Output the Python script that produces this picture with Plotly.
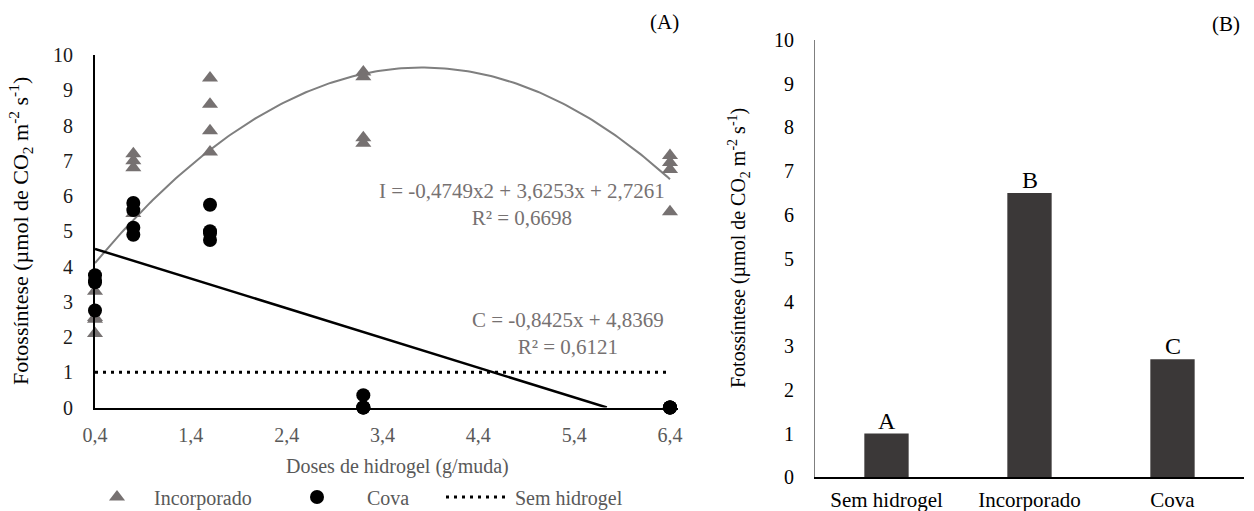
import numpy as np
import plotly.graph_objects as go

# ---------------- data ----------------
# Panel A: scatter of photosynthesis vs hydrogel dose
inc_x = [0.4, 0.4, 0.4, 0.4, 0.8, 0.8, 0.8, 0.8, 1.6, 1.6, 1.6, 1.6, 3.2, 3.2, 3.2, 3.2, 6.4, 6.4, 6.4, 6.4]
inc_y = [3.3, 2.55, 2.5, 2.1, 7.2, 7.0, 6.8, 5.5, 9.35, 8.6, 7.85, 7.25, 9.52, 9.38, 7.65, 7.5, 7.15, 6.95, 6.75, 5.55]

cova_x = [0.4, 0.4, 0.4, 0.4, 0.8, 0.8, 0.8, 0.8, 1.6, 1.6, 1.6, 1.6, 3.2, 3.2, 3.2, 3.2, 6.4, 6.4, 6.4, 6.4]
cova_y = [3.75, 3.6, 3.55, 2.75, 5.8, 5.6, 5.1, 4.9, 5.75, 5.0, 4.95, 4.75, 0.35, 0.0, 0.0, 0.0, 0.0, 0.0, 0.0, 0.0]

sem_x = [0.4, 6.4]
sem_y = [1.0, 1.0]

# fitted trend equations (from the chart)
inc_coef = [-0.4749, 3.6253, 2.7261]   # quadratic a, b, c
cova_coef = [-0.8425, 4.8369]          # linear slope, intercept
inc_eq = "I = -0,4749x2 + 3,6253x + 2,7261<br>R² = 0,6698"
cova_eq = "C = -0,8425x + 4,8369<br>R² = 0,6121"

x_tickvals = [0.4, 1.4, 2.4, 3.4, 4.4, 5.4, 6.4]
x_ticktext = ["0,4", "1,4", "2,4", "3,4", "4,4", "5,4", "6,4"]
y_tickvals = [0, 1, 2, 3, 4, 5, 6, 7, 8, 9, 10]

# Panel B: bar chart
bar_cats = ["Sem hidrogel", "Incorporado", "Cova"]
bar_vals = [1.0, 6.5, 2.7]
bar_letters = ["A", "B", "C"]

# ---------------- layout helpers ----------------
W, H = 1254, 511
FONT = "Liberation Serif"
GRAY = "#767171"
TXTGRAY = "#595959"

def px(x):
    return x / W

def py(y):
    return 1 - y / H

fig = go.Figure()

# trend curves
xq = np.linspace(min(inc_x), max(inc_x), 200)
yq = inc_coef[0] * xq**2 + inc_coef[1] * xq + inc_coef[2]
fig.add_trace(go.Scatter(x=xq, y=yq, mode="lines", line=dict(color="#7f7f7f", width=2),
                         showlegend=False, hoverinfo="skip", xaxis="x", yaxis="y"))

x_end = min(max(cova_x), -cova_coef[1] / cova_coef[0])
xl = np.linspace(min(cova_x), x_end, 50)
yl = cova_coef[0] * xl + cova_coef[1]
fig.add_trace(go.Scatter(x=xl, y=yl, mode="lines", line=dict(color="black", width=2.5),
                         showlegend=False, hoverinfo="skip", xaxis="x", yaxis="y"))

# dotted reference
fig.add_trace(go.Scatter(x=sem_x, y=sem_y, mode="lines", name="Sem hidrogel",
                         line=dict(color="black", width=3, dash="3px,5px"),
                         legend="legend3", xaxis="x", yaxis="y", cliponaxis=False))

fig.add_trace(go.Scatter(x=inc_x, y=inc_y, mode="markers", name="Incorporado",
                         marker=dict(symbol="triangle-up", size=14, color=GRAY),
                         legend="legend", xaxis="x", yaxis="y", cliponaxis=False))
fig.add_trace(go.Scatter(x=cova_x, y=cova_y, mode="markers", name="Cova",
                         marker=dict(symbol="circle", size=14, color="black"),
                         legend="legend2", xaxis="x", yaxis="y", cliponaxis=False))

# bars
fig.add_trace(go.Bar(x=bar_cats, y=bar_vals, marker=dict(color="#3b3838", line=dict(width=0)),
                     width=0.31, showlegend=False, xaxis="x2", yaxis="y2"))

annotations = []
for c, v, l in zip(bar_cats, bar_vals, bar_letters):
    annotations.append(dict(x=c, y=v, xref="x2", yref="y2", text=l, showarrow=False,
                            xanchor="center", yanchor="bottom", yshift=-2,
                            font=dict(family=FONT, size=24, color="black")))

def ann(x, y, text, size, color, xanchor="center", angle=0):
    return dict(x=px(x), y=py(y), xref="paper", yref="paper", text=text, showarrow=False,
                xanchor=xanchor, yanchor="middle", textangle=angle, align="center",
                font=dict(family=FONT, size=size, color=color))

annotations += [
    ann(522, 205, inc_eq, 21, GRAY),
    ann(568, 333, cova_eq, 21, GRAY),
    ann(681, 22, "(A)", 21, "black", xanchor="right"),
    ann(1242, 24, "(B)", 21, "black", xanchor="right"),
    ann(398, 466, "Doses de hidrogel (g/muda)", 20, TXTGRAY),
    ann(20, 231, "Fotossíntese (µmol de CO<sub>2</sub> m<sup>-2</sup> s<sup>-1</sup>)", 22, "black", angle=-90),
    ann(739, 248, "Fotossíntese (µmol de CO<sub>2</sub> m<sup>-2</sup> s<sup>-1</sup>)", 20, "black", angle=-90),
]

legend_common = dict(orientation="h", yanchor="middle", xanchor="left",
                     xref="container", yref="container",
                     font=dict(family=FONT, size=20, color=TXTGRAY),
                     bgcolor="rgba(0,0,0,0)", borderwidth=0)

fig.update_layout(
    width=W, height=H,
    margin=dict(l=0, r=0, t=0, b=0, autoexpand=False),
    paper_bgcolor="white", plot_bgcolor="white",
    font=dict(family=FONT, size=20, color="black"),
    xaxis=dict(domain=[px(95), px(678)], range=[0.4, 0.4 + (678 - 95) / 95.83], anchor="y",
               tickvals=x_tickvals, ticktext=x_ticktext, showgrid=False, zeroline=False,
               showline=True, linecolor="black", linewidth=2, ticks="",
               tickfont=dict(family=FONT, size=20, color=TXTGRAY), ticklabelstandoff=8),
    yaxis=dict(domain=[py(407.5), py(55)], range=[0, 10], tickvals=y_tickvals, anchor="x",
               showgrid=False, zeroline=False, showline=True, linecolor="black", linewidth=2,
               ticks="", tickfont=dict(family=FONT, size=20, color="#1a1a1a"), ticklabelstandoff=16),
    xaxis2=dict(domain=[px(815), px(1244)], range=[-0.5, 2.5], anchor="y2", showgrid=False,
                zeroline=False, showline=True, linecolor="black", linewidth=2, ticks="",
                tickfont=dict(family=FONT, size=21, color="black"), ticklabelstandoff=2),
    yaxis2=dict(domain=[py(477.3), py(40)], range=[0, 10], tickvals=y_tickvals, anchor="x2",
                showgrid=False, zeroline=False, showline=True, linecolor="#7f7f7f", linewidth=1,
                ticks="", tickfont=dict(family=FONT, size=20, color="black"), ticklabelstandoff=16),
    legend=dict(x=px(80), y=py(497), itemwidth=64, **legend_common),
    legend2=dict(x=px(267), y=py(497), itemwidth=90, **legend_common),
    legend3=dict(x=px(441), y=py(497), itemwidth=64, **legend_common),
    annotations=annotations,
    bargap=0.69,
)

fig.write_html("out.html")
